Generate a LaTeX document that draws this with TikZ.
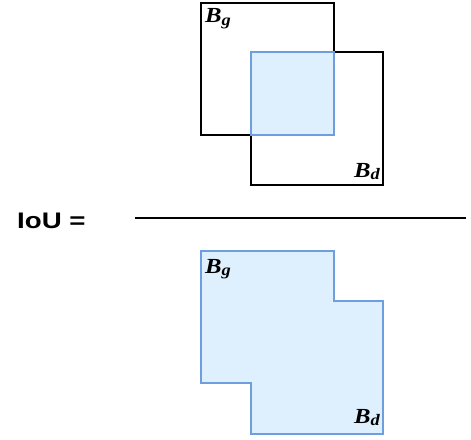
\documentclass[tikz,border=0pt]{standalone}
\usepackage{fontspec}
\setmainfont{Liberation Serif}
\newfontfamily\iousans{Liberation Sans}
\usepackage{graphicx}
\usepackage{xcolor}
\usepackage{tikz}
\usetikzlibrary{positioning}

\definecolor{iouFill}{RGB}{222,240,253}
\definecolor{iouEdge}{RGB}{110,158,222}

\tikzset{
  boxline/.style={draw=black, line width=2.4pt},
  overlap/.style={fill=iouFill, draw=iouEdge, line width=2.4pt},
  boxlabel/.style={inner sep=0pt, anchor=base west, font={\fontsize{21.5}{21.5}\selectfont\bfseries\itshape}},
}
\newcommand{\boxname}[1]{\scalebox{1.15}[1]{B\raisebox{-0.3ex}{\fontsize{16}{16}\selectfont #1}}}

\begin{document}
\begin{tikzpicture}[x=1pt, y=-1pt]
\useasboundingbox (0,0) rectangle (471,439);
% numerator: the two boxes and their overlap
\draw[boxline] (201,3) rectangle (334,135);
\draw[boxline] (251,52) rectangle (383,185);
\draw[overlap] (251,52) rectangle (334,135);
\node[boxlabel] (numG) at (205,23) {\boxname{g}};
\node[boxlabel] (numD) at (354,177) {\boxname{d}};
% fraction bar
\node[anchor=base west, inner sep=0pt, font={\iousans\bfseries\fontsize{22.5}{22.5}\selectfont}] (iou) at (17,228.5)
  {\scalebox{1.23}[1]{IoU =}};
\coordinate (fracL) at (135,218);
\coordinate (fracR) at (466,218);
\draw[line width=2.2pt] (fracL) -- (fracR);
% denominator: the union
\draw[overlap, line width=2pt] (201,251) -- (334,251) -- (334,301) -- (383,301) -- (383,434)
  -- (251,434) -- (251,383) -- (201,383) -- cycle;
\node[boxlabel] (denG) at (205,273) {\boxname{g}};
\node[boxlabel] (denD) at (354,423) {\boxname{d}};
\end{tikzpicture}
\end{document}
